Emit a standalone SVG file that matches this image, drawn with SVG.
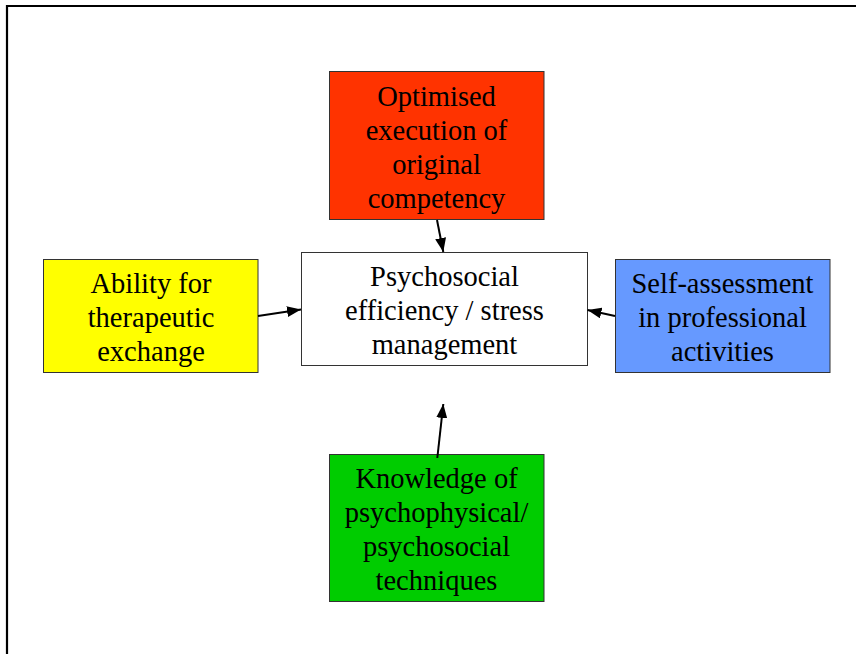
<svg xmlns="http://www.w3.org/2000/svg" width="856" height="654" viewBox="0 0 856 654">
  <style>
    .box { stroke: #333333; stroke-width: 1; }
    .label { font-family: "Liberation Serif", "Times New Roman", serif; font-size: 28.5px; fill: #000000; text-anchor: middle; }
    .link { stroke: #000000; stroke-width: 2; fill: none; marker-end: url(#arrow); }
  </style>
  <defs>
    <marker id="arrow" markerUnits="userSpaceOnUse" markerWidth="15" markerHeight="11" refX="14" refY="5.5" orient="auto">
      <path d="M0,0 L14,5.5 L0,11 Z" fill="#000000"/>
    </marker>
  </defs>

  <rect x="0" y="0" width="856" height="654" fill="#ffffff"/>
  <!-- outer frame -->
  <path d="M7,654 L7,6 L860,6" fill="none" stroke="#000000" stroke-width="2.2"/>

  <g id="node-optimised">
    <rect class="box" x="329.5" y="71.5" width="214.5" height="148" fill="#FF3300"/>
    <text class="label" x="436.5" y="106">Optimised</text>
    <text class="label" x="436.5" y="140">execution of</text>
    <text class="label" x="436.5" y="174">original</text>
    <text class="label" x="436.5" y="208">competency</text>
  </g>

  <g id="node-ability">
    <rect class="box" x="43.5" y="259.5" width="214.5" height="113" fill="#FFFF00"/>
    <text class="label" x="151" y="293">Ability for</text>
    <text class="label" x="151" y="327">therapeutic</text>
    <text class="label" x="151" y="361">exchange</text>
  </g>

  <g id="node-psychosocial">
    <rect class="box" x="301.5" y="252.5" width="286" height="113" fill="#FFFFFF"/>
    <text class="label" x="444.5" y="286">Psychosocial</text>
    <text class="label" x="444.5" y="320">efficiency / stress</text>
    <text class="label" x="444.5" y="354">management</text>
  </g>

  <g id="node-self-assessment">
    <rect class="box" x="615.5" y="259.5" width="214.5" height="113" fill="#6699FF"/>
    <text class="label" x="722.5" y="293">Self-assessment</text>
    <text class="label" x="722.5" y="327">in professional</text>
    <text class="label" x="722.5" y="361">activities</text>
  </g>

  <g id="node-knowledge">
    <rect class="box" x="329.5" y="454.5" width="214.5" height="147" fill="#00CC00"/>
    <text class="label" x="436.5" y="488">Knowledge of</text>
    <text class="label" x="436.5" y="522">psychophysical/</text>
    <text class="label" x="436.5" y="556">psychosocial</text>
    <text class="label" x="436.5" y="590">techniques</text>
  </g>

  <g id="connectors">
    <line class="link" x1="437" y1="220" x2="443.3" y2="252"/>
    <line class="link" x1="258" y1="316" x2="301" y2="309.5"/>
    <line class="link" x1="615" y1="316" x2="587.5" y2="310"/>
    <line class="link" x1="437.3" y1="458" x2="443.3" y2="404"/>
  </g>
</svg>
